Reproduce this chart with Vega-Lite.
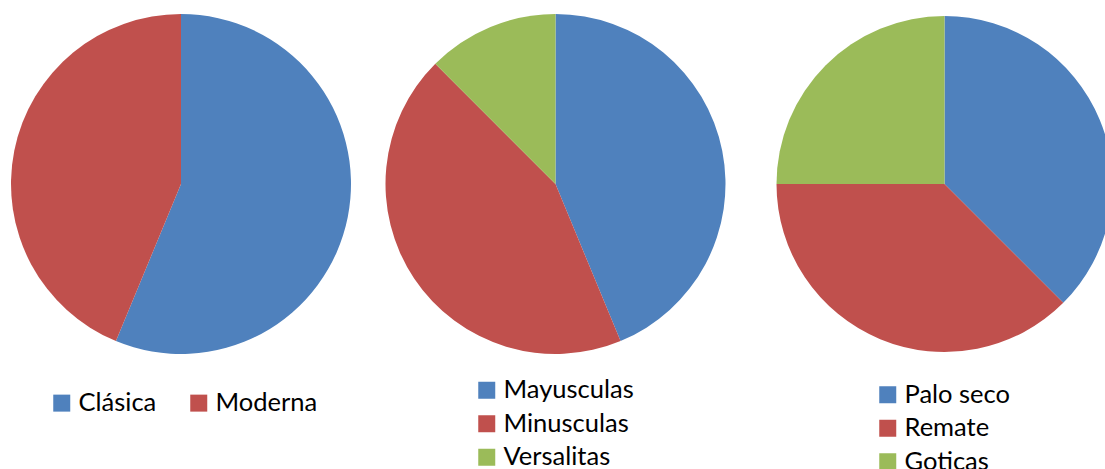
{
  "$schema": "https://vega.github.io/schema/vega-lite/v6.json",
  "width": 1105,
  "height": 368,
  "autosize": {"type": "none"},
  "padding": {"left": 0, "top": 0, "right": 0, "bottom": 101},
  "background": "white",
  "config": {
    "view": {"stroke": null},
    "legend": {
      "symbolType": "square",
      "symbolSize": 289,
      "symbolStrokeWidth": 0,
      "labelFont": "Lato",
      "labelFontSize": 25.5,
      "labelColor": "#000000",
      "labelOffset": 4,
      "padding": 0,
      "rowPadding": 6.5,
      "titleFontSize": 0
    }
  },
  "data": {
    "values": [
      {"grafico": 1, "tipo": "Clásica", "orden": 1, "valor": 9},
      {"grafico": 1, "tipo": "Moderna", "orden": 2, "valor": 7},
      {"grafico": 2, "tipo": "Mayusculas", "orden": 1, "valor": 7},
      {"grafico": 2, "tipo": "Minusculas", "orden": 2, "valor": 7},
      {"grafico": 2, "tipo": "Versalitas", "orden": 3, "valor": 2},
      {"grafico": 3, "tipo": "Palo seco", "orden": 1, "valor": 6},
      {"grafico": 3, "tipo": "Remate", "orden": 2, "valor": 6},
      {"grafico": 3, "tipo": "Goticas", "orden": 3, "valor": 4}
    ]
  },
  "layer": [
    {
      "transform": [{"filter": "datum.grafico == 1"}],
      "mark": {"type": "arc", "radius": 170},
      "encoding": {
        "x": {"datum": 1, "type": "quantitative", "scale": {"domain": [1, 2, 3], "range": [181, 555.5, 944.5], "nice": false, "zero": false}, "axis": null},
        "theta": {"field": "valor", "type": "quantitative", "stack": true, "scale": {"domain": [0, 16]}},
        "order": {"field": "orden", "type": "quantitative"},
        "color": {
          "field": "tipo", "type": "nominal",
          "scale": {"domain": ["Clásica", "Moderna"], "range": ["#4F81BD", "#C0504D"]},
          "legend": {"title": null, "orient": "none", "legendX": 49, "legendY": 390, "direction": "horizontal", "columnPadding": 29}
        }
      }
    },
    {
      "transform": [{"filter": "datum.grafico == 2"}],
      "mark": {"type": "arc", "radius": 170},
      "encoding": {
        "x": {"datum": 2, "type": "quantitative", "axis": null},
        "theta": {"field": "valor", "type": "quantitative", "stack": true},
        "order": {"field": "orden", "type": "quantitative"},
        "color": {
          "field": "tipo", "type": "nominal",
          "scale": {"domain": ["Mayusculas", "Minusculas", "Versalitas"], "range": ["#4F81BD", "#C0504D", "#9BBB59"]},
          "legend": {"title": null, "orient": "none", "legendX": 474, "legendY": 377.5, "direction": "vertical"}
        }
      }
    },
    {
      "transform": [{"filter": "datum.grafico == 3"}],
      "mark": {"type": "arc", "radius": 168},
      "encoding": {
        "x": {"datum": 3, "type": "quantitative", "axis": null},
        "theta": {"field": "valor", "type": "quantitative", "stack": true},
        "order": {"field": "orden", "type": "quantitative"},
        "color": {
          "field": "tipo", "type": "nominal",
          "scale": {"domain": ["Palo seco", "Remate", "Goticas"], "range": ["#4F81BD", "#C0504D", "#9BBB59"]},
          "legend": {"title": null, "orient": "none", "legendX": 875, "legendY": 382, "direction": "vertical"}
        }
      }
    }
  ],
  "resolve": {"scale": {"color": "independent"}}
}
